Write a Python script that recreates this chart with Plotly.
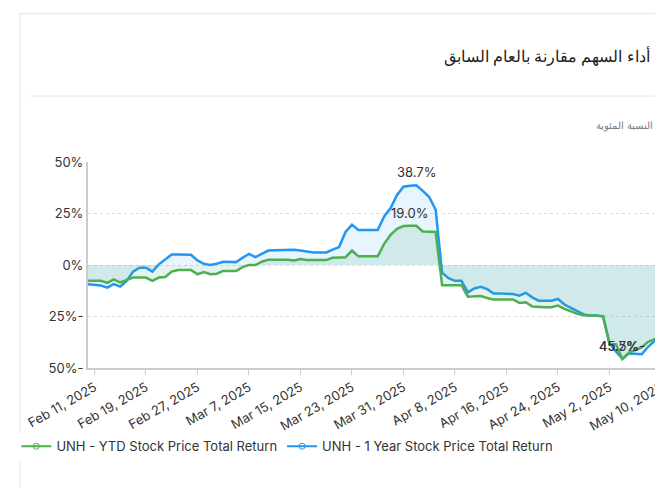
import plotly.graph_objects as go
import pandas as pd

dates = pd.date_range("2025-02-10", "2025-05-10", freq="D")
blue = [-9.3,-9.8,-10,-11,-9.3,-10.5,-7.7,-3.2,-1.3,-1.3,-3.2,0.3,2.7,5.1,5.1,5,5,2.2,0.6,0,0.6,1.6,1.4,1.4,3.5,5.4,3.8,5.4,7,7.2,7.2,7.2,7.4,7,6.4,6.1,6.1,6.1,7.5,8.7,16,19.6,17,17,17,17,23.6,27.6,34,38,38.5,38.7,36,33,26.8,-3.7,-6.4,-7.7,-7.7,-13.3,-11.4,-10.6,-11.7,-13.8,-13.8,-13.8,-14.1,-14.9,-13.5,-15.7,-17.3,-17.3,-17.3,-16.5,-19.2,-20.8,-22.4,-24,-24.5,-24.5,-25,-38,-42,-45.5,-43,-43.3,-43.3,-39.7,-36.9,-37.3]
green = [-7.7,-7.7,-7.7,-8.7,-7,-8.5,-7.4,-6.1,-6.1,-6.1,-7.7,-6.1,-5.8,-3.2,-2.4,-2.4,-2.4,-4.5,-3.4,-4.5,-4.2,-2.9,-2.9,-2.9,-1,0,0,1.6,2.6,2.6,2.6,2.6,2.2,2.9,2.4,2.4,2.4,2.4,3.5,3.8,3.8,7,4.2,4.2,4.2,4.2,10.3,14.7,17.6,18.9,19,19,16.3,16,16,-9.8,-9.8,-9.8,-9.8,-15.4,-15.1,-15.1,-16,-16.8,-16.8,-16.8,-16.7,-18.4,-18.1,-20.2,-20.5,-20.5,-20.5,-19.7,-21.3,-22.4,-23.7,-24.4,-24.5,-24.5,-24.8,-38.5,-38.5,-45.7,-42.6,-41.3,-40,-37.3,-36,-36]
tickvals = [-50, -25, 0, 25, 50]
ticktext = ["50%-", "25%-", "0%", "25%", "50%"]
names = ["UNH - YTD Stock Price Total Return", "UNH - 1 Year Stock Price Total Return"]

BLUE = "#2196F3"; GREEN = "#4CAF50"
fig = go.Figure()
fig.add_trace(go.Scatter(x=dates, y=blue, name=names[1], mode="lines", line=dict(color=BLUE, width=2.5),
                         fill="tozeroy", fillcolor="rgba(33,150,243,0.10)", showlegend=False))
fig.add_trace(go.Scatter(x=dates, y=green, name=names[0], mode="lines", line=dict(color=GREEN, width=2.5),
                         fill="tozeroy", fillcolor="rgba(76,175,130,0.15)", showlegend=False))
fig.add_trace(go.Scatter(x=[None], y=[None], name=names[0], mode="lines+markers", line=dict(color=GREEN, width=2),
                         marker=dict(symbol="circle-open", size=6, color=GREEN)))
fig.add_trace(go.Scatter(x=[None], y=[None], name=names[1], mode="lines+markers", line=dict(color=BLUE, width=2),
                         marker=dict(symbol="circle-open", size=6, color=BLUE)))

for ser in (blue, green):
    i = max(range(len(ser)), key=lambda k: ser[k])
    fig.add_annotation(x=dates[i], y=ser[i], text=f"{ser[i]:.1f}%", showarrow=False, yanchor="bottom", yshift=3,
                       font=dict(size=13, color="#333"))
    j = min(range(len(ser)), key=lambda k: ser[k])
    fig.add_annotation(x=dates[j], y=ser[j], text=f"{-ser[j]:.1f}%-", showarrow=False, yanchor="bottom", yshift=3,
                       font=dict(size=13, color="#333"))

fig.update_layout(
    width=663, height=487, margin=dict(l=80, r=10, t=154, b=127, autoexpand=False),
    paper_bgcolor="white", plot_bgcolor="white",
    font=dict(family="Inter, Noto Sans", size=13, color="#333"),
    xaxis=dict(range=[dates[0], dates[-1]], tick0="2025-02-27", dtick=8*86400000, tickformat="%b %-d, %Y",
               tickangle=-30, showgrid=False, showline=True, linecolor="#ccc", linewidth=2,
               ticks="outside", ticklen=5, tickcolor="#ccc"),
    yaxis=dict(range=[-50, 50], tickvals=tickvals, ticktext=ticktext, showgrid=True, gridcolor="#ddd",
               griddash="dot", zeroline=False, showline=True, linecolor="#ccc", linewidth=2),
    legend=dict(orientation="h", x=-0.125, y=-0.38, xanchor="left", yanchor="middle", font=dict(size=13)),
    shapes=[
        dict(type="rect", xref="paper", yref="paper", x0=-0.119, x1=1.003, y0=-0.59, y1=1.72,
             line=dict(color="#e5e5e5", width=1)),
        dict(type="line", xref="paper", yref="paper", x0=-0.1, x1=0.99, y0=1.32, y1=1.32,
             line=dict(color="#e5e5e5", width=1)),
    ],
)
fig.add_annotation(xref="paper", yref="paper", x=0.985, y=1.515, text="أداء السهم مقارنة بالعام السابق",
                   showarrow=False, xanchor="right", yanchor="middle", font=dict(size=16, color="#222", family="Noto Sans"))
fig.add_annotation(xref="paper", yref="paper", x=0.99, y=1.18, text="النسبة المئوية",
                   showarrow=False, xanchor="right", yanchor="middle", font=dict(size=10, color="#777", family="Noto Sans"))
fig.write_html("out.html")
